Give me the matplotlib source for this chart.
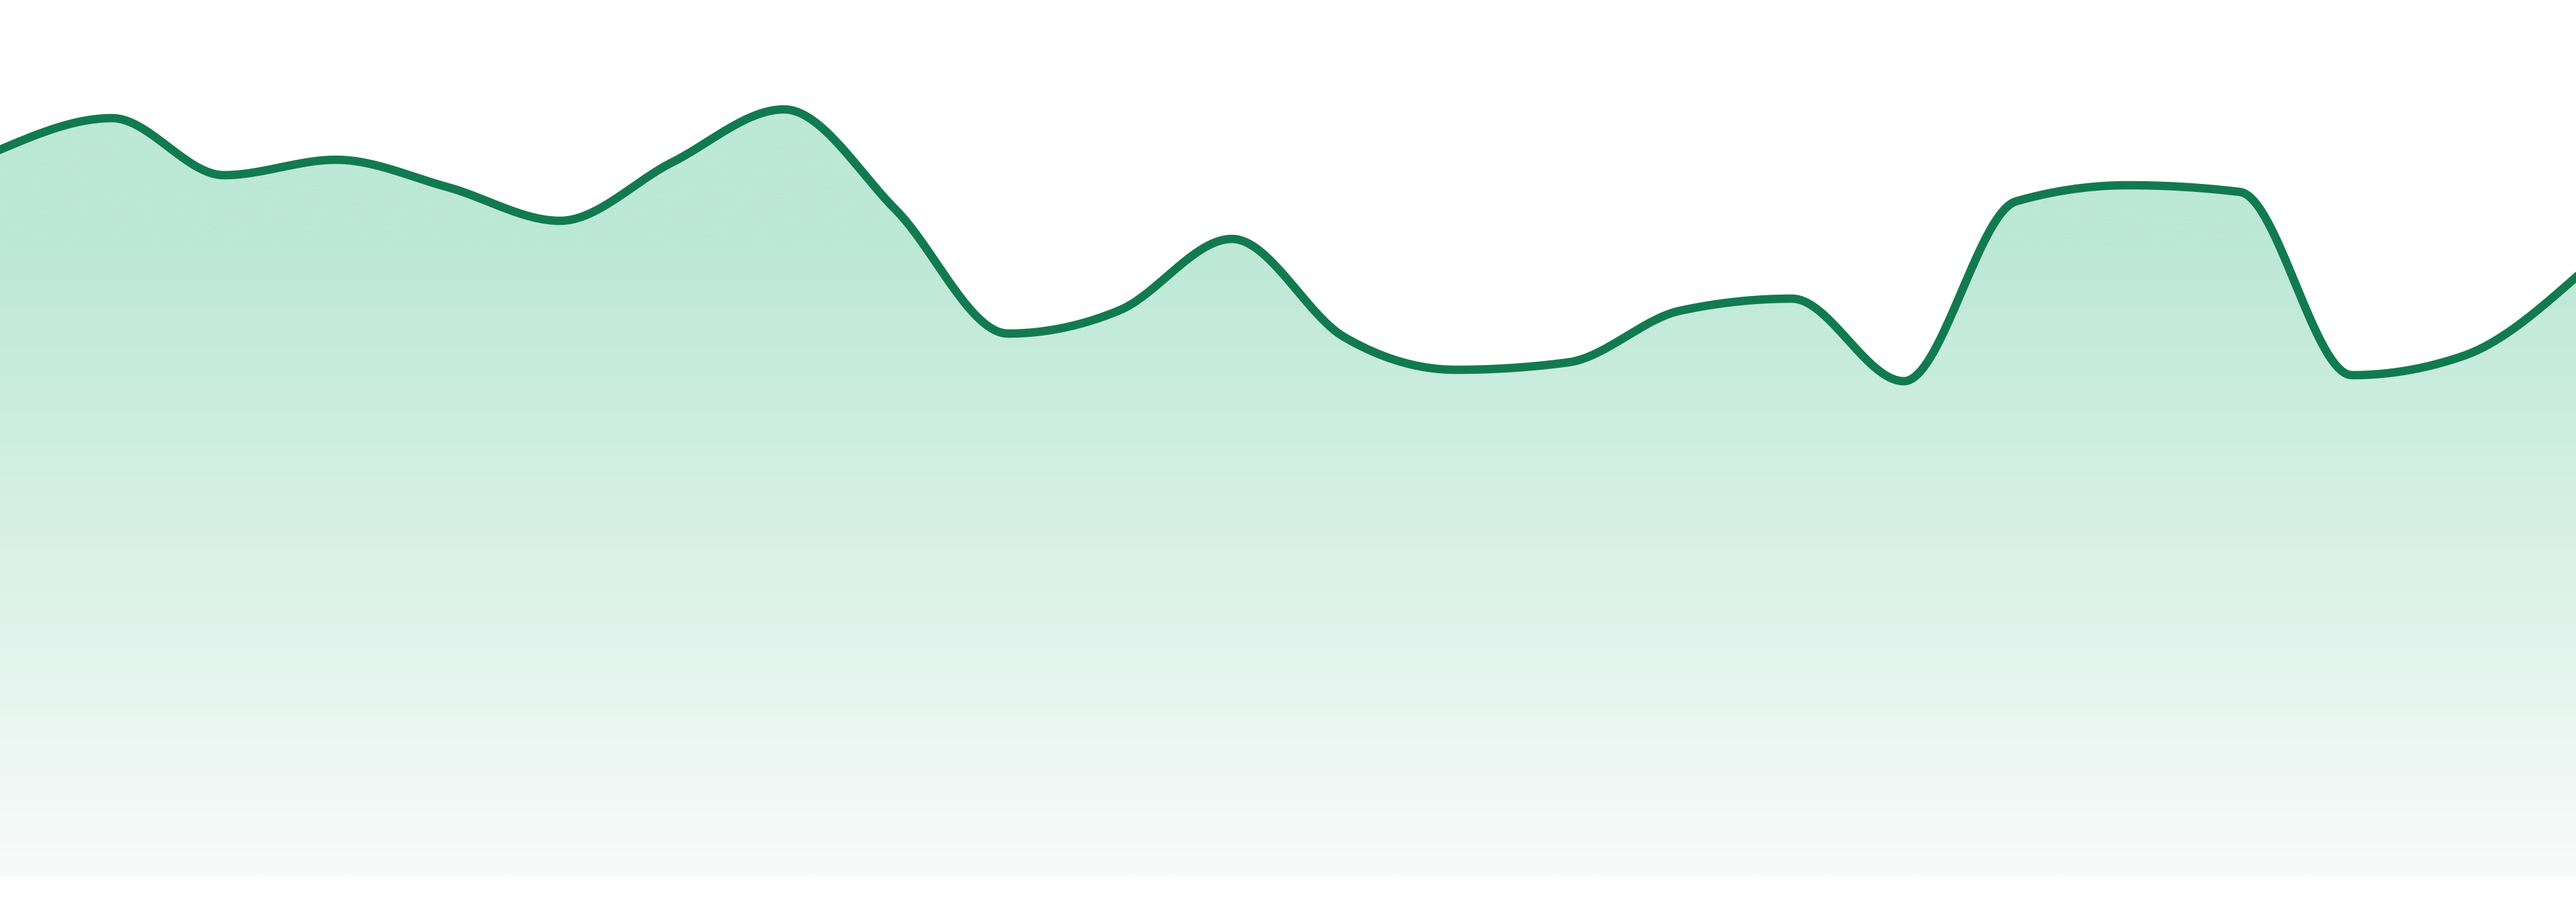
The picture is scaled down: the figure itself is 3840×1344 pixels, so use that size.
import numpy as np
import matplotlib
matplotlib.use('Agg')
import matplotlib.pyplot as plt
from matplotlib.path import Path
from matplotlib.patches import PathPatch
from matplotlib.colors import LinearSegmentedColormap

# values (24 evenly spaced points)
idx = list(range(24))
values = [108.2, 112.9, 104.4, 106.7, 102.6, 97.6, 106.3, 114.2, 99.2, 80.8, 84.3, 94.9,
          80.3, 75.4, 76.5, 84.2, 86.0, 73.7, 100.5, 102.9, 101.9, 74.6, 77.5, 89.2]

line_color = '#127a50'
fill_top = '#bce8d6'
fill_bottom = '#f8fbfa'


# d3 style curveMonotoneX
def monotone_x(x, y, n=40):
    x = np.asarray(x, float)
    y = np.asarray(y, float)
    m = len(x)
    t = np.zeros(m)
    for i in range(1, m - 1):
        h0 = x[i] - x[i - 1]
        h1 = x[i + 1] - x[i]
        s0 = (y[i] - y[i - 1]) / h0
        s1 = (y[i + 1] - y[i]) / h1
        p = (s0 * h1 + s1 * h0) / (h0 + h1)
        t[i] = (np.sign(s0) + np.sign(s1)) * min(abs(s0), abs(s1), 0.5 * abs(p))
    t[0] = (3 * (y[1] - y[0]) / (x[1] - x[0]) - t[1]) / 2
    t[-1] = (3 * (y[-1] - y[-2]) / (x[-1] - x[-2]) - t[-2]) / 2
    xs, ys = [], []
    for i in range(m - 1):
        dx = (x[i + 1] - x[i]) / 3
        p0 = np.array([x[i], y[i]])
        p1 = np.array([x[i] + dx, y[i] + dx * t[i]])
        p2 = np.array([x[i + 1] - dx, y[i + 1] - dx * t[i + 1]])
        p3 = np.array([x[i + 1], y[i + 1]])
        u = np.linspace(0, 1, n, endpoint=(i == m - 2))[:, None]
        pts = (1 - u) ** 3 * p0 + 3 * (1 - u) ** 2 * u * p1 + 3 * (1 - u) * u ** 2 * p2 + u ** 3 * p3
        xs.append(pts[:, 0])
        ys.append(pts[:, 1])
    return np.concatenate(xs), np.concatenate(ys)


cx, cy = monotone_x(idx, values)

fig = plt.figure(figsize=(38.4, 13.44), dpi=100)
fig.patch.set_facecolor('white')
ax = fig.add_axes([0, 39 / 1344, 1, 1305 / 1344])
ax.set_xlim(0, 23)
ax.set_ylim(0, 130.5)
ax.axis('off')

# gradient area under the line
verts = np.column_stack([np.r_[cx, 23, 0, cx[0]], np.r_[cy, 0, 0, cy[0]]])
area = PathPatch(Path(verts, closed=True), facecolor='none', edgecolor='none')
ax.add_patch(area)
cmap = LinearSegmentedColormap.from_list('g', [(0, fill_bottom), (0.72, fill_top), (1, fill_top)])
grad = np.linspace(1, 0, 512)[:, None]
img = ax.imshow(grad, cmap=cmap, extent=[0, 23, 0, 130.5], aspect='auto', vmin=0, vmax=1,
                interpolation='bilinear')
img.set_clip_path(area)

ax.plot(cx, cy, color=line_color, lw=9, solid_joinstyle='round')

fig.savefig('out.png', dpi=100, facecolor='white')
